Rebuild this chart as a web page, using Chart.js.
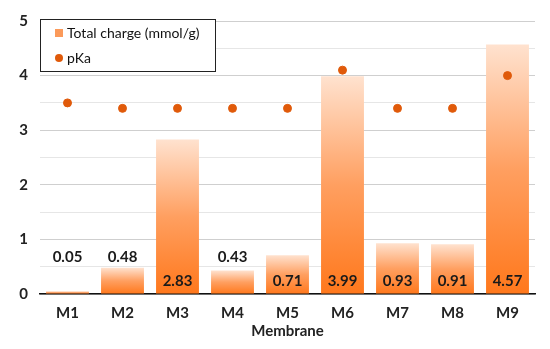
<!DOCTYPE html>
<html>
<head>
<meta charset="utf-8">
<script src="https://cdn.jsdelivr.net/npm/chart.js@4"></script>
<style>
  html, body { margin: 0; padding: 0; background: #fff; }
  #wrap { width: 550px; height: 349px; }
</style>
</head>
<body>
<div id="wrap"><canvas id="chart"></canvas></div>
<script>
const membranes = ["M1", "M2", "M3", "M4", "M5", "M6", "M7", "M8", "M9"];
const totalCharge = [0.05, 0.48, 2.83, 0.43, 0.71, 3.99, 0.93, 0.91, 4.57];
const pKa = [3.5, 3.4, 3.4, 3.4, 3.4, 4.1, 3.4, 3.4, 4.0];
const yTicks = [0, 1, 2, 3, 4, 5];

const FONT = "Lato, 'Open Sans', sans-serif";

function barGradient(ctx) {
    const chart = ctx.chart;
    const y = chart.scales.y;
    if (!y || ctx.dataIndex === undefined) return "#ff8a3d";
    const top = y.getPixelForValue(totalCharge[ctx.dataIndex]);
    const base = y.getPixelForValue(0);
    if (!isFinite(top) || !isFinite(base) || top === base) return "#ff8a3d";
    const g = chart.ctx.createLinearGradient(0, base, 0, top);
    g.addColorStop(0, "#ff781c");
    g.addColorStop(0.5, "#ff9f60");
    g.addColorStop(1, "#ffe2cf");
    return g;
}

// value labels: inside base for taller bars, above for short ones
const labelPlugin = {
    id: "labels",
    afterDatasetsDraw(chart) {
        const { ctx, scales } = chart;
        const meta = chart.getDatasetMeta(1);
        ctx.save();
        ctx.font = "bold 15px " + FONT;
        ctx.fillStyle = "#1a1a1a";
        ctx.textAlign = "center";
        ctx.textBaseline = "middle";
        meta.data.forEach((bar, i) => {
            const v = totalCharge[i];
            const yPos = v < 0.6 ? scales.y.getPixelForValue(0.68) : scales.y.getPixelForValue(0) - 13;
            ctx.fillText(v.toFixed(2), bar.x, yPos);
        });
        ctx.restore();
    }
};

// boxed legend over the top-left of the plot
const legendPlugin = {
    id: "boxLegend",
    afterDraw(chart) {
        const { ctx, chartArea } = chart;
        const x = chartArea.left, y = chartArea.top - 2;
        ctx.save();
        ctx.fillStyle = "#fff";
        ctx.fillRect(x, y, 175, 52);
        ctx.strokeStyle = "#222";
        ctx.lineWidth = 1;
        ctx.strokeRect(x + 0.5, y + 0.5, 175, 52);
        ctx.fillStyle = "#fb9a5a";
        ctx.fillRect(x + 15, y + 10, 8, 8);
        ctx.fillStyle = "#e05a0a";
        ctx.beginPath();
        ctx.arc(x + 19, y + 39, 4, 0, Math.PI * 2);
        ctx.fill();
        ctx.fillStyle = "#111";
        ctx.font = "14px " + FONT;
        ctx.textBaseline = "middle";
        ctx.fillText("Total charge (mmol/g)", x + 27, y + 14);
        ctx.fillText("pKa", x + 27, y + 39);
        ctx.restore();
    }
};

new Chart(document.getElementById("chart"), {
    data: {
        labels: membranes,
        datasets: [{
            type: "scatter",
            label: "pKa",
            data: pKa,
            backgroundColor: "#e05a0a",
            borderColor: "#e05a0a",
            pointRadius: 4,
            pointHoverRadius: 4,
            order: 0
        }, {
            type: "bar",
            label: "Total charge (mmol/g)",
            data: totalCharge,
            backgroundColor: barGradient,
            barPercentage: 0.78,
            categoryPercentage: 1,
            order: 1
        }]
    },
    options: {
        responsive: true,
        maintainAspectRatio: false,
        animation: false,
        layout: { padding: { left: 0, right: 15, top: 2, bottom: 10 } },
        plugins: {
            legend: { display: false },
            tooltip: { enabled: false }
        },
        scales: {
            x: {
                type: "category",
                offset: true,
                grid: { display: false },
                border: { color: "#111", width: 1.5 },
                ticks: { color: "#222", font: { family: FONT, size: 15, weight: "bold" }, padding: 2 },
                title: { display: true, text: "Membrane", color: "#222", font: { family: FONT, size: 15, weight: "bold", lineHeight: 1.0 }, padding: { top: 0, bottom: 0 } }
            },
            y: {
                min: 0,
                max: 5,
                afterBuildTicks(axis) {
                    const t = [];
                    yTicks.forEach((v, i) => {
                        t.push({ value: v });
                        if (i < yTicks.length - 1) t.push({ value: v + 0.5 });
                    });
                    axis.ticks = t;
                },
                afterFit(axis) { axis.width = 40; },
                border: { display: false },
                grid: {
                    drawTicks: false,
                    color: c => (c.tick && c.tick.value % 1 === 0) ? "#cfcfcf" : "#e6e6e6",
                    lineWidth: 1
                },
                ticks: {
                    color: "#222",
                    padding: 12,
                    font: { family: FONT, size: 15, weight: "bold" },
                    callback: v => (v % 1 === 0 ? v : "")
                }
            }
        }
    },
    plugins: [labelPlugin, legendPlugin]
});
</script>
</body>
</html>
